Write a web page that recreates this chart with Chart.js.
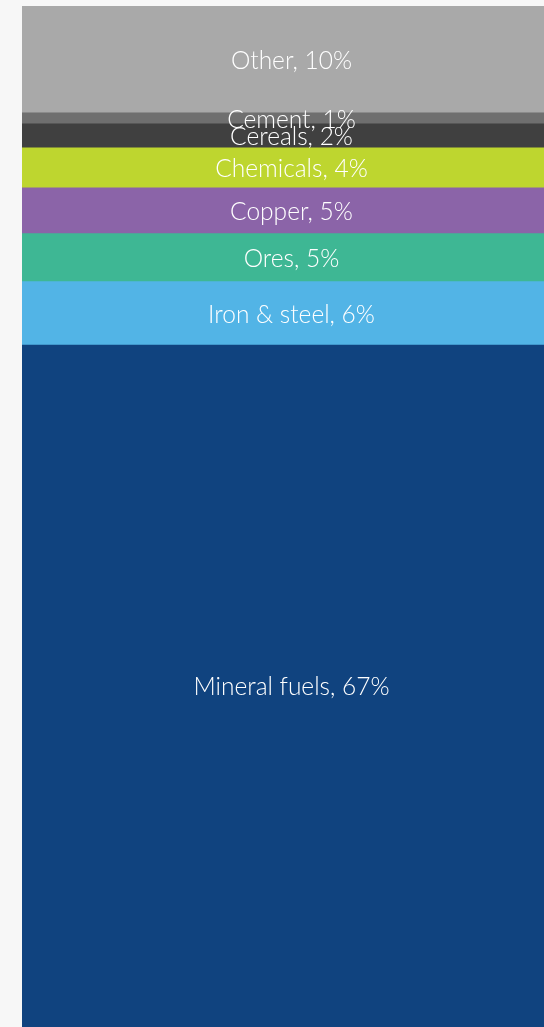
<!DOCTYPE html>
<html><head><meta charset="utf-8">
<script src="https://cdn.jsdelivr.net/npm/chart.js@4/dist/chart.umd.min.js"></script>
<style>html,body{margin:0;padding:0;background:#f7f7f7;overflow:hidden;}#wrap{width:561px;height:1027px;position:relative;}</style>
</head><body><div id="wrap"><canvas id="chart"></canvas></div>
<script>
const categories = ['Exports'];
const seriesNames = ['Mineral fuels','Iron & steel','Ores','Copper','Chemicals','Cereals','Cement','Other'];
const seriesValues = [66.8, 6.2, 4.7, 4.5, 3.9, 2.35, 1.08, 10.47];
const seriesLabels = ['67%','6%','5%','5%','4%','2%','1%','10%'];
const seriesColors = ['#10437f','#52b4e6','#3eb794','#8b64a8','#bed62f','#404040','#6f6f6f','#a9a9a9'];

const total = seriesValues.reduce((a,b)=>a+b,0);

const labelPlugin = {
  id:'segLabels',
  afterDatasetsDraw(chart){
    const ctx = chart.ctx;
    ctx.save();
    ctx.font = '300 24.5px Lato';
    ctx.fillStyle = '#ffffff';
    ctx.textAlign = 'center';
    ctx.textBaseline = 'middle';
    chart.data.datasets.forEach((ds,i)=>{
      const meta = chart.getDatasetMeta(i);
      meta.data.forEach(el=>{
        const p = el.getProps(['x','y','base'],true);
        ctx.fillText(seriesNames[i]+', '+seriesLabels[i], p.x, (p.y+p.base)/2 + 1.5);
      });
    });
    ctx.restore();
  }
};

new Chart(document.getElementById('chart'),{
  type:'bar',
  data:{
    labels:categories,
    datasets:seriesNames.map((n,i)=>({label:n,data:[seriesValues[i]],backgroundColor:seriesColors[i],borderWidth:0,barPercentage:1,categoryPercentage:1}))
  },
  options:{
    responsive:true,maintainAspectRatio:false,animation:false,
    layout:{padding:{left:22,top:6,right:0,bottom:0}},
    plugins:{legend:{display:false},tooltip:{enabled:false}},
    scales:{
      x:{stacked:true,display:false},
      y:{stacked:true,display:false,min:0,max:total}
    }
  },
  plugins:[labelPlugin]
});
</script></body></html>
